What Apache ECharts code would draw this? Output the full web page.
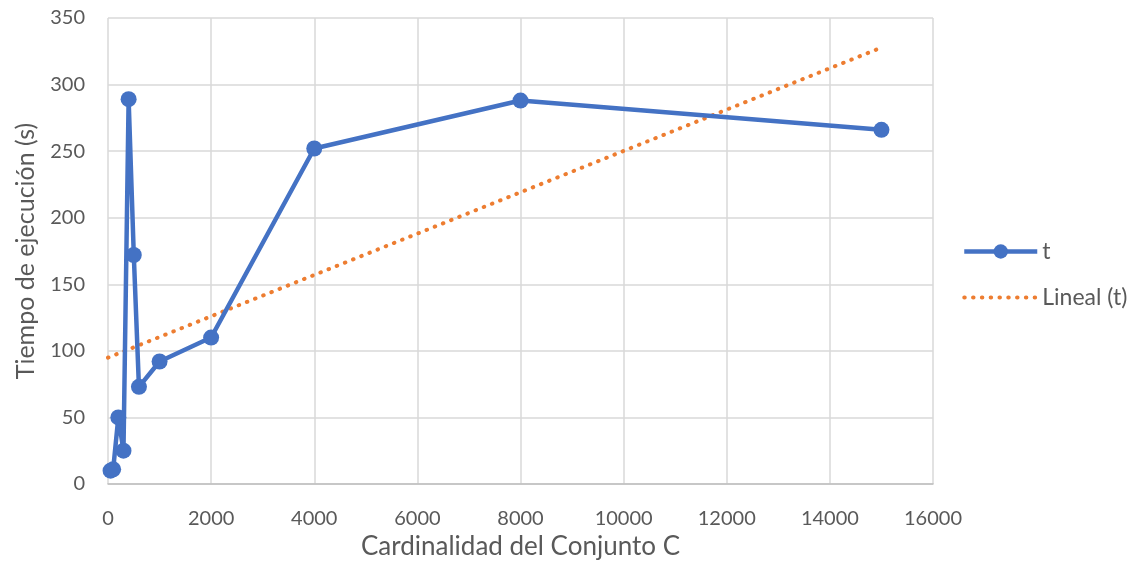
<!DOCTYPE html>
<html>
<head>
<meta charset="utf-8">
<script src="https://cdn.jsdelivr.net/npm/echarts@6/dist/echarts.min.js"></script>
<style>
  html, body { margin: 0; padding: 0; background: #ffffff; }
  #chart { width: 1137px; height: 564px; }
</style>
</head>
<body>
<div id="chart"></div>
<script>
// Cardinality of set C and measured execution time (seconds)
const cardinalidad = [50, 100, 200, 300, 400, 500, 600, 1000, 2000, 4000, 8000, 15000];
const tiempo = [10, 11, 50, 25, 289, 172, 73, 92, 110, 252, 288, 266];

const xTicks = { min: 0, max: 16000, interval: 2000 };
const yTicks = { min: 0, max: 350, interval: 50 };

// Least-squares linear fit of tiempo against cardinalidad
function linearFit(xs, ys) {
  const n = xs.length;
  const mx = xs.reduce((a, b) => a + b, 0) / n;
  const my = ys.reduce((a, b) => a + b, 0) / n;
  let sxy = 0, sxx = 0;
  for (let i = 0; i < n; i++) {
    sxy += (xs[i] - mx) * (ys[i] - my);
    sxx += (xs[i] - mx) * (xs[i] - mx);
  }
  const slope = sxy / sxx;
  return { slope, intercept: my - slope * mx };
}
const fit = linearFit(cardinalidad, tiempo);
const fitStart = 0;
const fitEnd = Math.max(...cardinalidad);
const lineal = [
  [fitStart, fit.intercept + fit.slope * fitStart],
  [fitEnd, fit.intercept + fit.slope * fitEnd]
];

const FONT = 'Lato';
const TEXT = '#595959';
const GRID = '#d9d9d9';
const BLUE = '#4472C4';
const ORANGE = '#ED7D31';
const DOTS = [0.5, 8.3];

const chart = echarts.init(document.getElementById('chart'), null, { renderer: 'canvas' });
chart.setOption({
  animation: false,
  backgroundColor: '#ffffff',
  textStyle: { fontFamily: FONT, color: TEXT },
  grid: { left: 108, right: 204, top: 18, bottom: 80, containLabel: false, outerBoundsMode: 'none' },
  legend: {
    orient: 'vertical',
    left: 957,
    top: 235,
    itemGap: 23,
    itemWidth: 73,
    itemHeight: 18,
    textStyle: { fontFamily: FONT, fontSize: 23, color: TEXT },
    data: [
      { name: 't', lineStyle: { color: BLUE, width: 4.5 } },
      { name: 'Lineal (t)', lineStyle: { color: ORANGE, width: 4, type: DOTS, cap: 'round' } }
    ]
  },
  xAxis: {
    type: 'value',
    min: xTicks.min, max: xTicks.max, interval: xTicks.interval,
    name: 'Cardinalidad del Conjunto C',
    nameLocation: 'middle',
    nameGap: 48,
    nameTextStyle: { fontFamily: FONT, fontSize: 26, color: TEXT },
    axisLine: { show: true, lineStyle: { color: '#bfbfbf', width: 1.5 } },
    axisTick: { show: false },
    axisLabel: { fontFamily: FONT, fontSize: 20, color: TEXT, margin: 25, formatter: v => String(v) },
    splitLine: { show: true, lineStyle: { color: GRID, width: 1.5 } }
  },
  yAxis: {
    type: 'value',
    min: yTicks.min, max: yTicks.max, interval: yTicks.interval,
    name: 'Tiempo de ejecución (s)',
    nameLocation: 'middle',
    nameGap: 70,
    nameTextStyle: { fontFamily: FONT, fontSize: 25, color: TEXT },
    axisLine: { show: false },
    axisTick: { show: false },
    axisLabel: { fontFamily: FONT, fontSize: 20, color: TEXT, margin: 23 },
    splitLine: { show: true, lineStyle: { color: GRID, width: 1.5 } }
  },
  series: [
    {
      name: 't',
      type: 'line',
      data: cardinalidad.map((x, i) => [x, tiempo[i]]),
      symbol: 'circle',
      symbolSize: 16,
      itemStyle: { color: BLUE },
      lineStyle: { color: BLUE, width: 4.5 },
      z: 3
    },
    {
      name: 'Lineal (t)',
      type: 'line',
      data: lineal,
      symbol: 'none',
      itemStyle: { color: 'rgba(0,0,0,0)' },
      lineStyle: { color: ORANGE, width: 4, type: DOTS, cap: 'round' },
      z: 2
    }
  ]
});
</script>
</body>
</html>
